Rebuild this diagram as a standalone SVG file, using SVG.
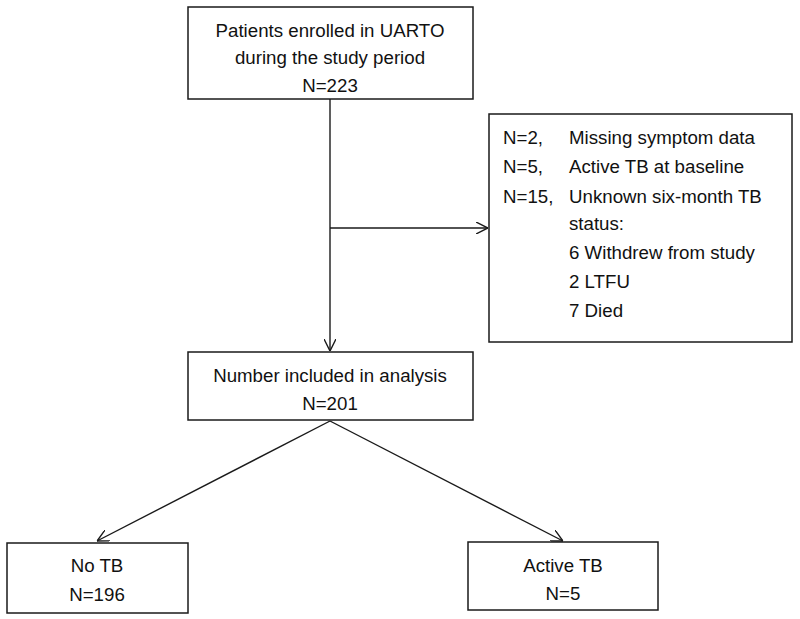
<svg xmlns="http://www.w3.org/2000/svg" width="800" height="619" viewBox="0 0 800 619">
<defs>
<style>
.box{fill:#fff;stroke:#1a1a1a;stroke-width:1.5}
.t{font-family:"Liberation Sans",Arial,sans-serif;font-size:18.7px;fill:#111}
.c{text-anchor:middle}
.ln{stroke:#1a1a1a;stroke-width:1.4;fill:none}
</style>
<marker id="arr" viewBox="0 0 12 12" refX="12" refY="6" markerWidth="12" markerHeight="12" markerUnits="userSpaceOnUse" orient="auto">
<path d="M0,0 L12,6 L0,12" fill="none" stroke="#1a1a1a" stroke-width="1.4"/>
</marker>
</defs>
<rect width="800" height="619" fill="#fff"/>
<g id="connectors">
<line class="ln" x1="330" y1="99" x2="330" y2="351" marker-end="url(#arr)"/>
<line class="ln" x1="330" y1="228" x2="488" y2="228" marker-end="url(#arr)"/>
<line class="ln" x1="330" y1="421" x2="97" y2="541" marker-end="url(#arr)"/>
<line class="ln" x1="330" y1="421" x2="563" y2="541" marker-end="url(#arr)"/>
</g>
<g id="enrolled">
<rect class="box" x="188" y="7" width="285" height="92"/>
<text class="t c" x="330" y="37">Patients enrolled in UARTO</text>
<text class="t c" x="330" y="64">during the study period</text>
<text class="t c" x="330" y="92">N=223</text>
</g>
<g id="excluded">
<rect class="box" x="489" y="114" width="303" height="228"/>
<text class="t" x="503" y="144">N=2,</text>
<text class="t" x="569" y="144">Missing symptom data</text>
<text class="t" x="503" y="173">N=5,</text>
<text class="t" x="569" y="173">Active TB at baseline</text>
<text class="t" x="503" y="203">N=15,</text>
<text class="t" x="569" y="203">Unknown six-month TB</text>
<text class="t" x="569" y="230">status:</text>
<text class="t" x="569" y="259">6 Withdrew from study</text>
<text class="t" x="569" y="288">2 LTFU</text>
<text class="t" x="569" y="317">7 Died</text>
</g>
<g id="analysis">
<rect class="box" x="188" y="352" width="285" height="68"/>
<text class="t c" x="330" y="382">Number included in analysis</text>
<text class="t c" x="330" y="410">N=201</text>
</g>
<g id="notb">
<rect class="box" x="7" y="543" width="181" height="70"/>
<text class="t c" x="97" y="572">No TB</text>
<text class="t c" x="97" y="601">N=196</text>
</g>
<g id="activetb">
<rect class="box" x="468" y="542" width="190" height="68"/>
<text class="t c" x="563" y="572">Active TB</text>
<text class="t c" x="563" y="600">N=5</text>
</g>
</svg>
